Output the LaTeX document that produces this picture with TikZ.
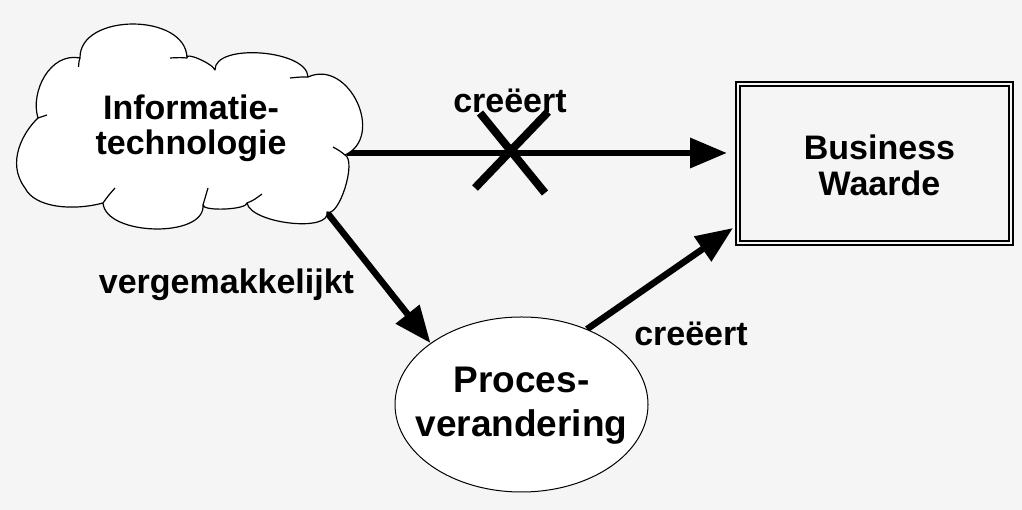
\documentclass[tikz,border=0pt]{standalone}
\usepackage{fontspec}
\setmainfont{Liberation Sans}
\usetikzlibrary{shapes.geometric,arrows.meta}
\definecolor{bggray}{HTML}{F5F5F5}
\pgfdeclarelayer{bglayer}
\pgfdeclarelayer{connlayer}
\pgfsetlayers{bglayer,connlayer,main}
\tikzset{
  lbl/.style={font=\fontsize{34}{35}\selectfont\bfseries, inner sep=0pt, align=center},
  bigtxt/.style={font=\fontsize{37}{44}\selectfont\bfseries, inner sep=0pt, align=center},
  conn/.style={line width=6.5pt, -{Triangle[length=37pt,width=29pt]}},
  cloudline/.style={draw=black, line width=1.2pt, line join=round},
  ellbox/.style={ellipse, minimum width=253pt, minimum height=175pt, inner sep=0pt,
    draw=black, line width=1pt, fill=white},
  valuebox/.style={rectangle, minimum width=273pt, minimum height=159pt, inner sep=0pt,
    outer sep=0pt, draw=black, line width=2pt, double=bggray, double distance=1.7pt},
  crossline/.style={line width=8pt}
}
\begin{document}
\begin{tikzpicture}[x=1pt,y=1pt]
\useasboundingbox (0,0) rectangle (1022,510);
\begin{pgfonlayer}{bglayer}
  \fill[bggray] (0,0) rectangle (1022,510);
\end{pgfonlayer}

% cloud outline
\path[cloudline, fill=white] (80,452)
  .. controls (79.3,497.3) and (186.3,497.3) .. (187,452)
  .. controls (184.3,458.7) and (212.3,446.7) .. (215,440)
  .. controls (214.3,467.3) and (307.3,460.3) .. (308,433)
  .. controls (348.7,451.7) and (385.7,373.7) .. (345,355)
  .. controls (357,349) and (339,292) .. (327,298)
  .. controls (331,277.3) and (251,286.3) .. (247,307)
  .. controls (247,300.3) and (203,298.3) .. (203,305)
  .. controls (205.7,271.7) and (105.7,273.7) .. (103,307)
  .. controls (73,299) and (35,302) .. (25,322)
  .. controls (5.8,347.6) and (23.4,378.2) .. (38,392)
  .. controls (30,418) and (50,458) .. (80,452) -- cycle;
% inner puff stubs
\draw[cloudline] (80,452) .. controls (79,449) .. (78.5,443);
\draw[cloudline] (187,452) .. controls (180,452.5) .. (170,452);
\draw[cloudline] (308,433) .. controls (300,433) .. (290,432);
\draw[cloudline] (38,392) .. controls (42,394) .. (47,395);
\draw[cloudline] (345,355) .. controls (340,359) .. (333,363);
\draw[cloudline] (247,307) .. controls (254,310) .. (262,316);
\draw[cloudline] (103,307) .. controls (108,314) .. (115,322);
\draw[cloudline] (203,305) .. controls (205,313) .. (208,322);

% nodes
\node[lbl] (cloud) at (191,381.3) {Informatie-\\technologie};
\coordinate (cloudE) at (347,357);
\coordinate (cloudSE) at (327,297.5);

\node[valuebox] (box) at (874.5,346.8) {};
\node[lbl, font=\fontsize{34}{36}\selectfont\bfseries] (boxtxt) at (879.5,345) {Business\\Waarde};

\node[ellbox] (ell) at (521.5,105.5) {};
\node[bigtxt] (elltxt) at (521.5,104.4) {Proces-\\verandering};

% connectors
\begin{pgfonlayer}{connlayer}
  \draw[conn] (cloudE) -- ([shift={(-11,0)}]box.west |- cloudE);
  \draw[conn] (cloudSE) -- (ell.146.7);
  \draw[conn] (ell.49) -- ([shift={(-5,14.7)}]box.south west);
\end{pgfonlayer}

% cross on the first connector
\coordinate (x) at (512,358);
\draw[crossline] ([shift={(-32,39)}]x) -- ([shift={(33,-41)}]x);
\draw[crossline] ([shift={(36,40)}]x) -- ([shift={(-37,-36)}]x);

% labels
\node[lbl, anchor=base] (l1) at (510,397) {creëert};
\node[lbl, anchor=base] (l2) at (226.5,216) {vergemakkelijkt};
\node[lbl, anchor=base] (l3) at (691,164) {creëert};
\end{tikzpicture}
\end{document}
